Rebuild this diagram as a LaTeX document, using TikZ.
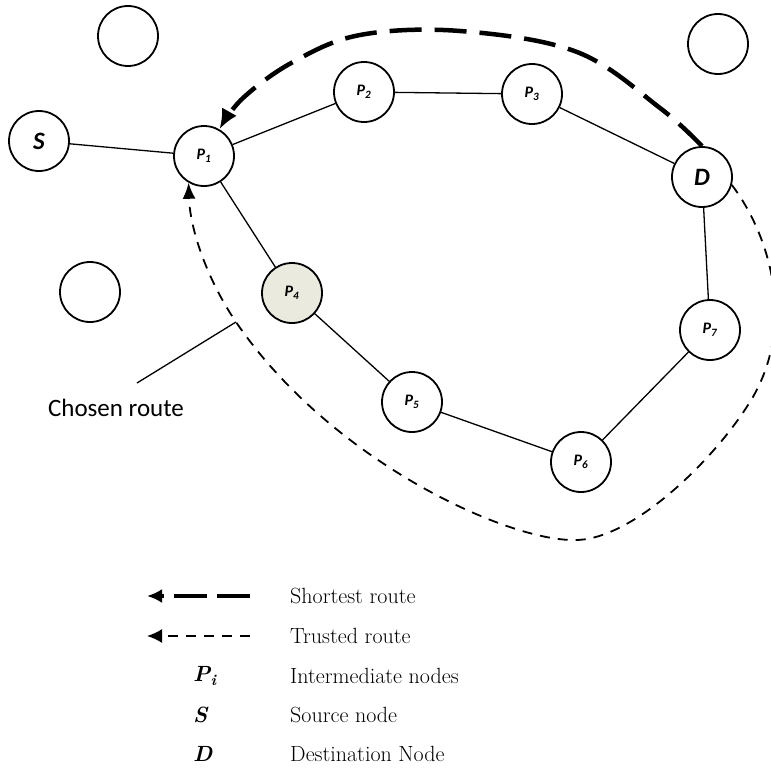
\documentclass[tikz,border=0pt]{standalone}
\usepackage{fontspec}
\newfontfamily\labelfont{Carlito}
\usetikzlibrary{arrows.meta}
\definecolor{markfill}{RGB}{234,234,222}
\tikzset{
    host/.style = {
        draw, circle,
        minimum size=60pt,
        inner sep=0pt,
        line width=1.8pt,
        font=\labelfont\bfseries\itshape\fontsize{16}{18}\selectfont,
        },
    end host/.style = {
        host,
        font=\labelfont\bfseries\itshape\fontsize{25}{28}\selectfont,
        },
    link/.style = {
        line width=1.3pt,
        },
    shortest/.style = {
        draw,
        line width=4.5pt,
        dash pattern=on 32pt off 13pt,
        -{Latex[length=20pt,width=17pt]},
        },
    trusted/.style = {
        draw,
        line width=1.8pt,
        dash pattern=on 10pt off 8pt,
        -{Latex[length=16pt,width=13pt]},
        },
    note/.style = {
        font=\labelfont\fontsize{25}{28}\selectfont,
        },
    key/.style = {
        anchor=west,
        inner sep=0pt,
        font=\fontsize{22}{26}\selectfont,
        },
}

\begin{document}
\begin{tikzpicture}[x=1pt, y=-1pt]
            \useasboundingbox (0,0) rectangle (771,768);

            % idle nodes
            \node[host] (n1) at (128,36) {};
            \node[host] (n2) at (718,44) {};
            \node[host] (n3) at (90,292) {};

            \node[end host] (s) at (39,141) {S};
            \node[host] (p1) at (204,156) {P\textsubscript{1}};
            \node[host] (p2) at (364,92) {P\textsubscript{2}};
            \node[host] (p3) at (532,94) {P\textsubscript{3}};
            \node[end host] (d) at (702,177) {D};
            \node[host, fill=markfill] (p4) at (292,293) {P\textsubscript{4}};
            \node[host] (p5) at (412,402) {P\textsubscript{5}};
            \node[host] (p6) at (581,462) {P\textsubscript{6}};
            \node[host] (p7) at (710,330) {P\textsubscript{7}};

            \path (s) edge[link] (p1);
            \path (p1) edge[link] (p2);
            \path (p2) edge[link] (p3);
            \path (p3) edge[link] (d);
            \path (p1) edge[link] (p4);
            \path (p4) edge[link] (p5);
            \path (p5) edge[link] (p6);
            \path (p6) edge[link] (p7);
            \path (p7) edge[link] (d);

            % routes
            \draw[shortest] plot[smooth, tension=0.6] coordinates
                {(d.north) (660,108) (577,52) (460,31) (360,35) (293,62) (243,98) (p1.60)};
            \coordinate (pick) at (236,322);
            \draw[trusted] (d.-15) .. controls (772,238) and (797,330) .. (748,405)
                .. controls (712,462) and (630,542) .. (573,540)
                .. controls (505,540) and (330,460) .. (pick)
                .. controls (208,281) and (190,230) .. (p1.240);

            \node[note] (chosen) at (116,408) {Chosen route};
            \draw[link] ([xshift=21pt,yshift=25pt]chosen.center) -- (pick);

            % legend
            \node[key] (k1) at (290,596) {Shortest route};
            \node[key] (k2) at (290,636) {Trusted route};
            \node[key] (k3) at (290,676) {Intermediate nodes};
            \node[key] (k4) at (290,715) {Source node};
            \node[key] (k5) at (290,754) {Destination Node};
            \node[key] (m3) at (193,676) {\textbf{\textit{P\textsubscript{i}}}};
            \node[key] (m4) at (193,715) {\textbf{\textit{S}}};
            \node[key] (m5) at (193,754) {\textbf{\textit{D}}};
            \coordinate (a1) at (250,596);
            \coordinate (b1) at (147,596);
            \coordinate (a2) at (250,636);
            \coordinate (b2) at (147,636);
            \draw[shortest, line width=4pt, dash pattern=on 33pt off 10pt,
                  -{Latex[length=15pt,width=14pt]}] (a1) -- (b1);
            \draw[trusted, -{Latex[length=15pt,width=14pt]}] (a2) -- (b2);
        \end{tikzpicture}
\end{document}
